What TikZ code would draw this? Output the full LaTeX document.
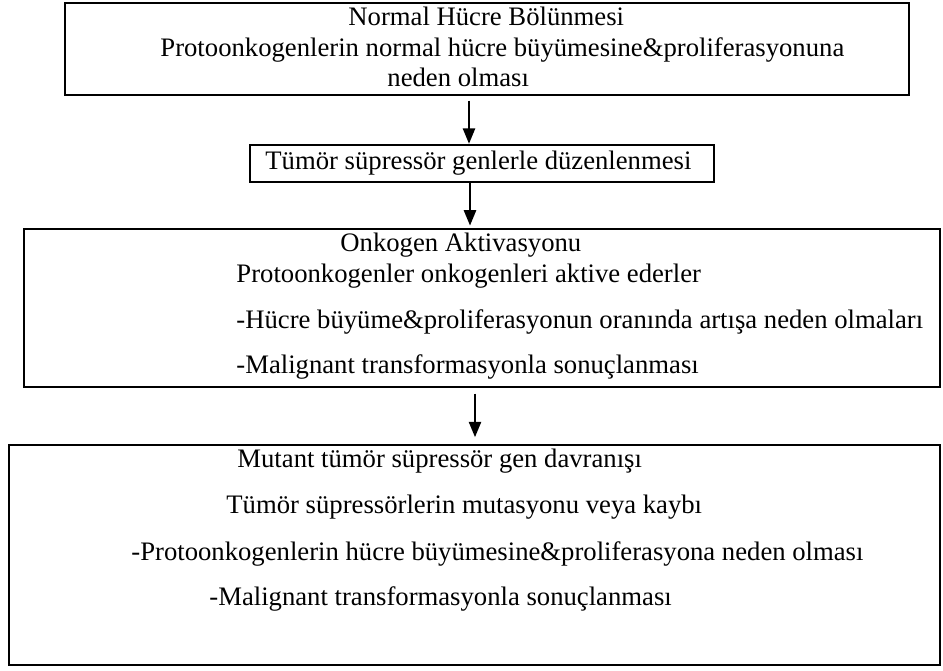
\documentclass[tikz,border=0pt]{standalone}
\usepackage{fontspec}
\setmainfont{Liberation Serif}
\usetikzlibrary{arrows.meta,fit}
\tikzset{
    kutu/.style={draw, line width=1.1pt, inner sep=0pt},
    satir/.style={anchor=west, inner sep=0pt, text height=8pt, text depth=2.5pt, font=\fontsize{12.15}{14}\selectfont},
    ok/.style={-{Triangle[width=5.5pt,length=7pt]}, line width=1pt}
}
\begin{document}
\begin{tikzpicture}[x=0.016cm, y=-0.016cm]
        \useasboundingbox (0,0) rectangle (943,671);
        % boxes
            \node[kutu, fit={(65,3) (909,95)}] (nhb) {};
            \node[kutu, fit={(250,145) (714,182)}] (tsg) {};
            \node[kutu, fit={(24,229) (940,387)}] (oa) {};
            \node[kutu, fit={(9,445) (940,665)}] (mtg) {};
        % texts
            \foreach \x/\y/\t [count=\i] in {348/19/Normal Hücre Bölünmesi,
                    160/50/Protoonkogenlerin normal hücre büyümesine\&proliferasyonuna,
                    387/80/neden olması,
                    265/163/Tümör süpressör genlerle düzenlenmesi,
                    340/245/Onkogen Aktivasyonu,
                    236/276/Protoonkogenler onkogenleri aktive ederler,
                    236/322/-Hücre büyüme\&proliferasyonun oranında artışa neden olmaları,
                    236/367/-Malignant transformasyonla sonuçlanması,
                    237/461/Mutant tümör süpressör gen davranışı,
                    226/507/Tümör süpressörlerin mutasyonu veya kaybı,
                    131/554/-Protoonkogenlerin hücre büyümesine\&proliferasyona neden olması,
                    209/599/-Malignant transformasyonla sonuçlanması}{
                \node[satir] (t\i) at (\x,\y) {\t};
            }
        % arrows
            \coordinate (o1) at (469,0);
            \coordinate (o2) at (470,0);
            \coordinate (o3) at (475,0);
            \draw[ok, shorten <=2pt] (nhb.south -| o1) -- (tsg.north -| o1);
            \draw[ok, shorten >=1pt] (tsg.south -| o2) -- (oa.north -| o2);
            \draw[ok, shorten <=2.5pt, shorten >=3pt] (oa.south -| o3) -- (mtg.north -| o3);
\end{tikzpicture}
\end{document}
